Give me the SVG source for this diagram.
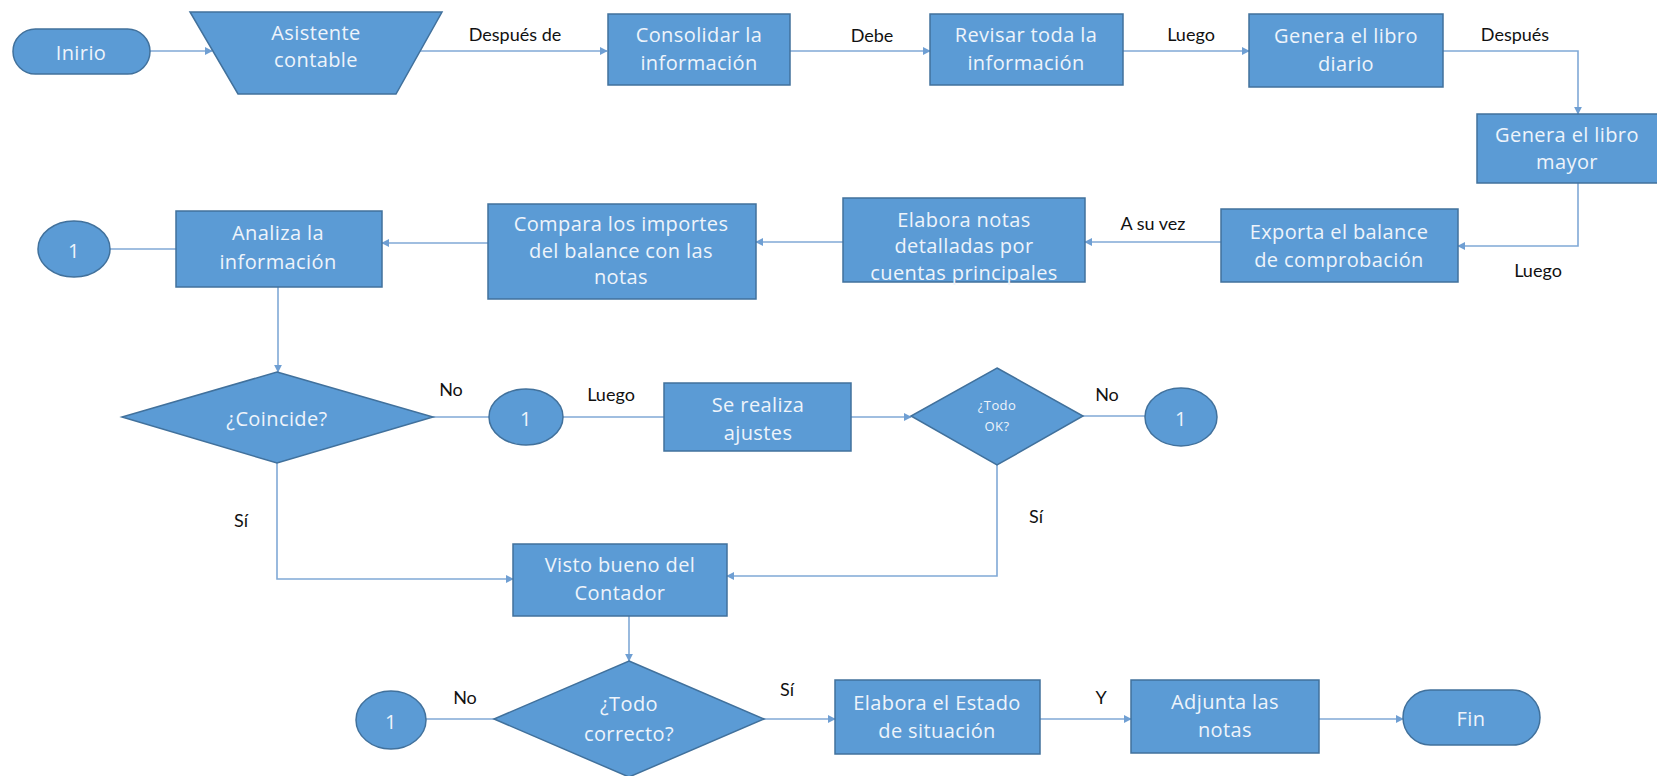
<svg xmlns="http://www.w3.org/2000/svg" width="1657" height="776" viewBox="0 0 1657 776">
<defs>
<style>
.n{fill:#5B9BD5;stroke:#41719C;stroke-width:1.5}
.t{font-family:"Open Sans",Lato,sans-serif;font-size:20px;letter-spacing:0.4px;fill:#eef4fb;text-anchor:middle;dominant-baseline:central}
.l{font-family:Lato,"Open Sans",sans-serif;font-size:18px;fill:#111;text-anchor:middle;dominant-baseline:central}
.c{fill:none;stroke:#80a9d6;stroke-width:1.6}
</style>
<marker id="a" viewBox="0 0 10 10" refX="9" refY="5" markerWidth="8" markerHeight="8" markerUnits="userSpaceOnUse" orient="auto"><path d="M0,0L10,5L0,10z" fill="#6f9fd3"/></marker>
</defs>
<rect width="1657" height="776" fill="#fff"/>
<g id="connectors">
<path class="c" d="M150,51H212" marker-end="url(#a)"/>
<path class="c" d="M400,51H607" marker-end="url(#a)"/>
<path class="c" d="M790,51H930" marker-end="url(#a)"/>
<path class="c" d="M1123,51H1249" marker-end="url(#a)"/>
<path class="c" d="M1443,51H1578V114" marker-end="url(#a)"/>
<path class="c" d="M1578,183V246H1458" marker-end="url(#a)"/>
<path class="c" d="M1221,242H1085" marker-end="url(#a)"/>
<path class="c" d="M843,242H756" marker-end="url(#a)"/>
<path class="c" d="M488,243H382" marker-end="url(#a)"/>
<path class="c" d="M110,249H176"/>
<path class="c" d="M278,287V372" marker-end="url(#a)"/>
<path class="c" d="M433,417H489"/>
<path class="c" d="M563,417H664"/>
<path class="c" d="M851,417H911" marker-end="url(#a)"/>
<path class="c" d="M1083,416H1145"/>
<path class="c" d="M277,463V579H513" marker-end="url(#a)"/>
<path class="c" d="M997,465V576H727" marker-end="url(#a)"/>
<path class="c" d="M629,616V661" marker-end="url(#a)"/>
<path class="c" d="M426,719H494"/>
<path class="c" d="M764,719H835" marker-end="url(#a)"/>
<path class="c" d="M1040,719H1131" marker-end="url(#a)"/>
<path class="c" d="M1319,719H1403" marker-end="url(#a)"/>
</g>
<g id="labels">
<text class="l" x="515" y="34">Después de</text>
<text class="l" x="872" y="35">Debe</text>
<text class="l" x="1191" y="34">Luego</text>
<text class="l" x="1515" y="34">Después</text>
<text class="l" x="1538" y="270">Luego</text>
<text class="l" x="1153" y="223">A su vez</text>
<text class="l" x="451" y="389">No</text>
<text class="l" x="611" y="394">Luego</text>
<text class="l" x="1107" y="394">No</text>
<text class="l" x="1036" y="516">Sí</text>
<text class="l" x="241" y="520">Sí</text>
<text class="l" x="465" y="697">No</text>
<text class="l" x="787" y="689">Sí</text>
<text class="l" x="1101" y="697">Y</text>
</g>
<g id="inicio"><rect class="n" x="13" y="29" width="137" height="45" rx="22.5"/><text class="t" x="81" y="52">Inirio</text></g>
<g id="asistente"><path class="n" d="M190,12H442L396,94H238Z"/><text class="t" x="316" y="32">Asistente</text><text class="t" x="316" y="59">contable</text></g>
<g id="consolidar"><rect class="n" x="608" y="14" width="182" height="71"/><text class="t" x="699" y="34">Consolidar la</text><text class="t" x="699" y="62">información</text></g>
<g id="revisar"><rect class="n" x="930" y="14" width="193" height="71"/><text class="t" x="1026" y="34">Revisar toda la</text><text class="t" x="1026" y="62">información</text></g>
<g id="diario"><rect class="n" x="1249" y="14" width="194" height="73"/><text class="t" x="1346" y="35">Genera el libro</text><text class="t" x="1346" y="63">diario</text></g>
<g id="mayor"><rect class="n" x="1477" y="114" width="182" height="69"/><text class="t" x="1567" y="134">Genera el libro</text><text class="t" x="1567" y="161">mayor</text></g>
<g id="exporta"><rect class="n" x="1221" y="209" width="237" height="73"/><text class="t" x="1339" y="231">Exporta el balance</text><text class="t" x="1339" y="259">de comprobación</text></g>
<g id="elabora-notas"><rect class="n" x="843" y="198" width="242" height="84"/><text class="t" x="964" y="219">Elabora notas</text><text class="t" x="964" y="245">detalladas por</text><text class="t" x="964" y="272">cuentas principales</text></g>
<g id="compara"><rect class="n" x="488" y="204" width="268" height="95"/><text class="t" x="621" y="223">Compara los importes</text><text class="t" x="621" y="250">del balance con las</text><text class="t" x="621" y="276">notas</text></g>
<g id="analiza"><rect class="n" x="176" y="211" width="206" height="76"/><text class="t" x="278" y="232">Analiza la</text><text class="t" x="278" y="261">información</text></g>
<g id="c1a"><ellipse class="n" cx="74" cy="249" rx="36" ry="28"/><text class="t" x="74" y="250">1</text></g>
<g id="coincide"><path class="n" d="M277,372L433,417L277,463L122,417Z"/><text class="t" x="277" y="418">¿Coincide?</text></g>
<g id="c1b"><ellipse class="n" cx="526" cy="417" rx="37" ry="28"/><text class="t" x="526" y="418">1</text></g>
<g id="ajustes"><rect class="n" x="664" y="383" width="187" height="68"/><text class="t" x="758" y="404">Se realiza</text><text class="t" x="758" y="432">ajustes</text></g>
<g id="todo-ok"><path class="n" d="M997,368L1083,416L997,465L911,416Z"/><text class="t" x="997" y="405" style="font-size:13px">¿Todo</text><text class="t" x="997" y="426" style="font-size:13px">OK?</text></g>
<g id="c1c"><ellipse class="n" cx="1181" cy="417" rx="36" ry="29"/><text class="t" x="1181" y="418">1</text></g>
<g id="visto"><rect class="n" x="513" y="544" width="214" height="72"/><text class="t" x="620" y="564">Visto bueno del</text><text class="t" x="620" y="592">Contador</text></g>
<g id="c1d"><ellipse class="n" cx="391" cy="720" rx="35" ry="29"/><text class="t" x="391" y="721">1</text></g>
<g id="todo-correcto"><path class="n" d="M629,661L764,719L629,777L494,719Z"/><text class="t" x="629" y="703">¿Todo</text><text class="t" x="629" y="733">correcto?</text></g>
<g id="estado"><rect class="n" x="835" y="680" width="205" height="74"/><text class="t" x="937" y="702">Elabora el Estado</text><text class="t" x="937" y="730">de situación</text></g>
<g id="adjunta"><rect class="n" x="1131" y="680" width="188" height="73"/><text class="t" x="1225" y="701">Adjunta las</text><text class="t" x="1225" y="729">notas</text></g>
<g id="fin"><rect class="n" x="1403" y="690" width="137" height="55" rx="27.5"/><text class="t" x="1471" y="718">Fin</text></g>
</svg>
